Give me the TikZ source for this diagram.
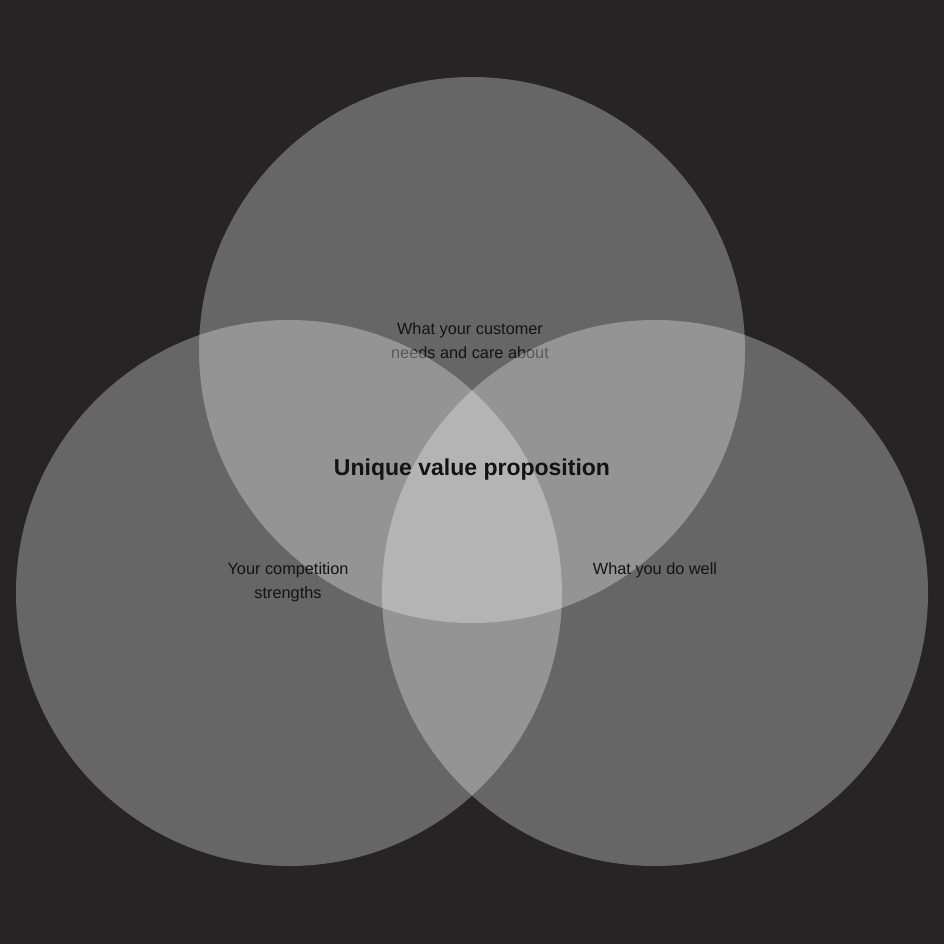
\documentclass[tikz,border=0pt]{standalone}
\usepackage{fontspec}
\setmainfont{Liberation Sans}
\definecolor{bgc}{HTML}{262425}
\definecolor{txt}{HTML}{131313}
\begin{document}
\begin{tikzpicture}[x=1pt,y=-1pt,
  venn/.style={fill=white,fill opacity=0.3,draw=none},
  lbl/.style={text=txt,align=center,font=\fontsize{16.3}{24}\selectfont,inner sep=0pt},
  title/.style={text=txt,font=\fontsize{23}{26}\selectfont\bfseries,inner sep=0pt}]
\fill[bgc] (0,0) rectangle (944,944);
\useasboundingbox (0,0) rectangle (944,944);
\fill[venn] (472,350) circle[radius=273];
\node[lbl] (top) at (470,340.5) {What your customer\\needs and care about};
\fill[venn] (289,593) circle[radius=273];
\node[lbl] (left) at (288,582.5) {Your competition\\strengths};
\fill[venn] (655,593) circle[radius=273];
\node[lbl] (right) at (655,570.5) {What you do well};
\node[title] (uvp) at (472,470) {Unique value proposition};
\end{tikzpicture}
\end{document}
